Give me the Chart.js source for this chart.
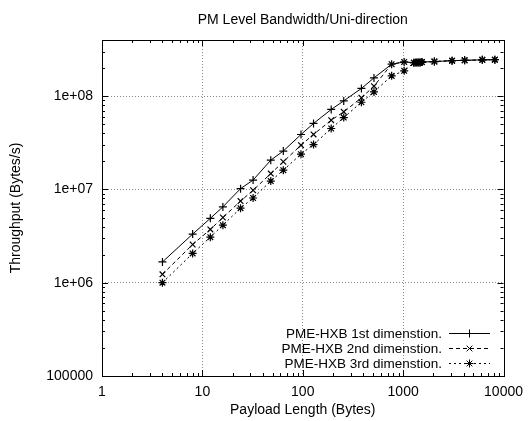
<!DOCTYPE html>
<html>
<head>
<meta charset="utf-8">
<script src="https://cdn.jsdelivr.net/npm/chart.js@4/dist/chart.umd.min.js"></script>
<style>
  html, body { margin: 0; padding: 0; background: #fff; }
  #wrap { width: 531px; height: 421px; }
</style>
</head>
<body>
<div id="wrap"><canvas id="bw"></canvas></div>
<script>
// payload sizes (bytes)
const payloadLength = [4, 8, 12, 16, 24, 32, 48, 64, 96, 128, 192, 256, 384, 512, 768, 1024,
  1280, 1344, 1408, 1472, 1536, 2048, 3072, 4096, 6144, 8192];

// throughput (bytes/s)
const dim1st = [1.67e6, 3.32e6, 4.9e6, 6.5e6, 1.02e7, 1.26e7, 2.06e7, 2.58e7, 3.88e7, 5.1e7, 7.2e7, 8.9e7,
  1.21e8, 1.57e8, 2.2e8, 2.33e8, 2.28e8, 2.3e8, 2.3e8, 2.3e8, 2.32e8, 2.35e8, 2.4e8, 2.42e8, 2.45e8, 2.46e8];
const dim2nd = [1.23e6, 2.57e6, 3.73e6, 5.0e6, 7.5e6, 9.8e6, 1.48e7, 1.98e7, 2.98e7, 3.89e7, 5.53e7, 6.79e7,
  9.6e7, 1.28e8, 2.2e8, 2.33e8, 2.28e8, 2.3e8, 2.3e8, 2.3e8, 2.32e8, 2.35e8, 2.4e8, 2.42e8, 2.45e8, 2.46e8];
const dim3rd = [1.0e6, 2.06e6, 3.08e6, 4.14e6, 6.3e6, 8.1e6, 1.23e7, 1.61e7, 2.39e7, 3.03e7, 4.5e7, 5.9e7,
  8.6e7, 1.11e8, 1.65e8, 1.87e8, 2.28e8, 2.3e8, 2.3e8, 2.3e8, 2.32e8, 2.35e8, 2.4e8, 2.42e8, 2.45e8, 2.46e8];

const seriesNames = ['PME-HXB 1st dimenstion.', 'PME-HXB 2nd dimenstion.', 'PME-HXB 3rd dimenstion.'];
const chartTitle = 'PM Level Bandwidth/Uni-direction';

const xMajor = [1, 10, 100, 1000, 10000];
const xTickLabels = ['1', '10', '100', '1000', '10000'];
const yMajor = [1e5, 1e6, 1e7, 1e8];
const yTickLabels = ['100000', '1e+06', '1e+07', '1e+08'];

const FONT = '"Liberation Sans", Arial, Helvetica, sans-serif';

// log ticks: 1..9 per decade, up to max
function logTicks(min, max) {
  const out = [];
  for (let d = min; d <= max; d *= 10) {
    for (let m = 1; m < 10; m++) {
      const v = m * d;
      if (v > max * 1.0001) break;
      out.push({ value: v });
    }
  }
  return out;
}
function isMajor(list, v) {
  return list.some(m => Math.abs(v - m) / m < 1e-6);
}

const toData = ys => payloadLength.map((x, i) => ({ x: x, y: ys[i] }));

// frame, inward tick marks and the title centred over the plot
const framePlugin = {
  id: 'frame',
  afterDraw(chart) {
    const { ctx, chartArea: a, scales } = chart;
    ctx.save();
    ctx.strokeStyle = '#000';
    ctx.lineWidth = 1;
    ctx.beginPath();
    scales.x.ticks.forEach(t => {
      const px = Math.round(scales.x.getPixelForValue(t.value)) + 0.5;
      const len = isMajor(xMajor, t.value) ? 6 : 3;
      ctx.moveTo(px, a.bottom); ctx.lineTo(px, a.bottom - len);
      ctx.moveTo(px, a.top); ctx.lineTo(px, a.top + len);
    });
    scales.y.ticks.forEach(t => {
      const py = Math.round(scales.y.getPixelForValue(t.value)) + 0.5;
      const len = isMajor(yMajor, t.value) ? 6 : 3;
      ctx.moveTo(a.left, py); ctx.lineTo(a.left + len, py);
      ctx.moveTo(a.right, py); ctx.lineTo(a.right - len, py);
    });
    ctx.stroke();
    ctx.strokeRect(Math.round(a.left) + 0.5, Math.round(a.top) + 0.5,
      Math.round(a.right - a.left), Math.round(a.bottom - a.top));

    ctx.fillStyle = '#000';
    ctx.font = '14px ' + FONT;
    ctx.textAlign = 'center';
    ctx.textBaseline = 'middle';
    ctx.fillText(chartTitle, (a.left + a.right) / 2, 20);
    ctx.restore();
  }
};

// legend in the lower right: text, then line sample with its marker
const keyPlugin = {
  id: 'key',
  afterDraw(chart) {
    const ctx = chart.ctx;
    const textRight = 442, lineL = 449, lineR = 490, rowY = [333, 348, 363];
    ctx.save();
    ctx.font = '13.5px ' + FONT;
    ctx.textAlign = 'right';
    ctx.textBaseline = 'middle';
    chart.data.datasets.forEach((ds, i) => {
      const y = rowY[i];
      ctx.fillStyle = '#000';
      ctx.fillText(ds.label, textRight, y + 1);
      ctx.strokeStyle = '#000';
      ctx.lineWidth = 1;
      ctx.setLineDash(ds.borderDash || []);
      ctx.beginPath();
      ctx.moveTo(lineL, y + 0.5); ctx.lineTo(lineR, y + 0.5);
      ctx.stroke();
      ctx.setLineDash([]);
      Chart.helpers.drawPoint(ctx, {
        pointStyle: ds.pointStyle, radius: ds.pointRadius, borderWidth: 1.2, rotation: 0
      }, (lineL + lineR) / 2, y + 0.5);
    });
    ctx.restore();
  }
};

function makeSet(label, ys, style, dash) {
  return {
    label: label,
    data: toData(ys),
    borderColor: '#000',
    backgroundColor: '#000',
    borderWidth: 1,
    borderDash: dash,
    pointStyle: style,
    pointRadius: 4,
    pointBorderWidth: 1.2,
    pointBorderColor: '#000',
    pointBackgroundColor: '#000',
    tension: 0,
    fill: false
  };
}

new Chart(document.getElementById('bw'), {
  type: 'line',
  data: {
    datasets: [
      makeSet(seriesNames[0], dim1st, 'cross', []),
      makeSet(seriesNames[1], dim2nd, 'crossRot', [4, 3]),
      makeSet(seriesNames[2], dim3rd, 'star', [2, 3])
    ]
  },
  plugins: [framePlugin, keyPlugin],
  options: {
    responsive: true,
    maintainAspectRatio: false,
    animation: false,
    events: [],
    layout: { padding: { left: 0, right: 23, top: 40, bottom: 0 } },
    plugins: {
      legend: { display: false },
      tooltip: { enabled: false },
      title: { display: false }
    },
    scales: {
      x: {
        type: 'logarithmic',
        min: 1,
        max: 10000,
        afterBuildTicks: s => { s.ticks = logTicks(1, 10000); },
        afterFit: s => { s.height = 45; },
        ticks: {
          autoSkip: false,
          maxRotation: 0,
          padding: 8,
          color: '#000',
          font: { family: FONT, size: 14 },
          callback: v => {
            const k = xMajor.findIndex(m => Math.abs(v - m) / m < 1e-6);
            return k >= 0 ? xTickLabels[k] : '';
          }
        },
        grid: {
          drawTicks: false,
          lineWidth: 1,
          color: c => (c.tick && isMajor(xMajor, c.tick.value) && c.tick.value > 1 && c.tick.value < 10000)
            ? '#888' : 'rgba(0,0,0,0)'
        },
        border: { display: false, dash: [1, 2] },
        title: {
          display: true,
          text: 'Payload Length (Bytes)',
          color: '#000',
          font: { family: FONT, size: 14 },
          padding: { top: 0, bottom: 2 }
        }
      },
      y: {
        type: 'logarithmic',
        min: 1e5,
        max: 4e8,
        afterBuildTicks: s => { s.ticks = logTicks(1e5, 4e8); },
        afterFit: s => { s.width = 102; },
        ticks: {
          autoSkip: false,
          padding: 9,
          color: '#000',
          font: { family: FONT, size: 14 },
          callback: v => {
            const k = yMajor.findIndex(m => Math.abs(v - m) / m < 1e-6);
            return k >= 0 ? yTickLabels[k] : '';
          }
        },
        grid: {
          drawTicks: false,
          lineWidth: 1,
          color: c => (c.tick && isMajor(yMajor, c.tick.value) && c.tick.value > 1e5)
            ? '#888' : 'rgba(0,0,0,0)'
        },
        border: { display: false, dash: [1, 2] },
        title: {
          display: true,
          text: 'Throughput (Bytes/s)',
          color: '#000',
          font: { family: FONT, size: 14 },
          padding: { top: 8, bottom: 0 }
        }
      }
    }
  }
});
</script>
</body>
</html>
